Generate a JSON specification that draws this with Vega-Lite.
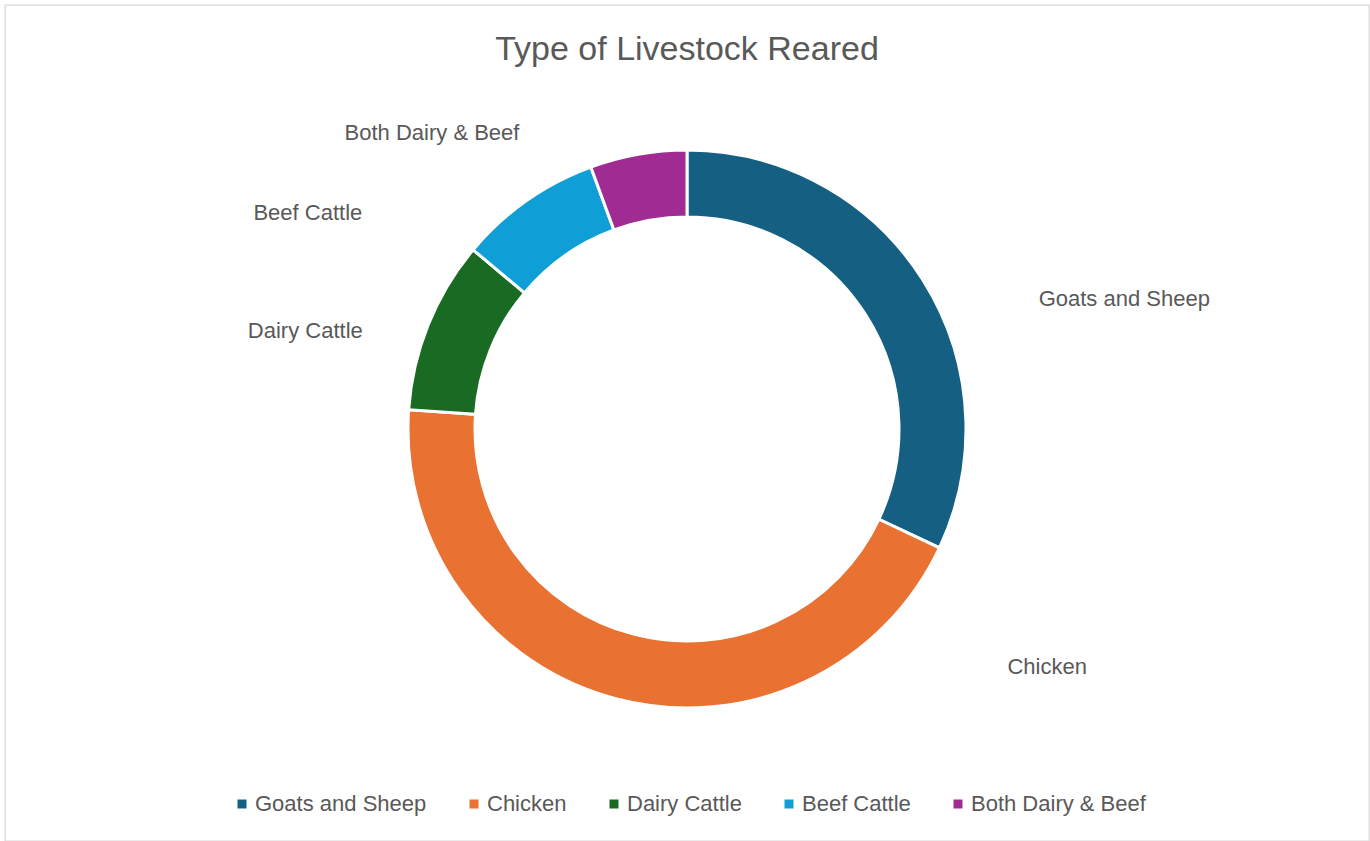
{
  "$schema": "https://vega.github.io/schema/vega-lite/v6.json",
  "width": 1364,
  "height": 836,
  "autosize": {"type": "none"},
  "padding": {"left": 5, "top": 5, "right": 1, "bottom": 0},
  "background": "white",
  "view": {"stroke": "#d9d9d9", "strokeWidth": 1.3},
  "title": {
    "text": "Type of Livestock Reared",
    "font": "Liberation Sans",
    "fontSize": 34,
    "fontWeight": "normal",
    "color": "#595959",
    "anchor": "middle",
    "baseline": "alphabetic",
    "offset": -89
  },
  "data": {
    "values": [
      {"category": "Goats and Sheep", "value": 32, "rank": 1},
      {"category": "Chicken", "value": 44.1, "rank": 2},
      {"category": "Dairy Cattle", "value": 10, "rank": 3},
      {"category": "Beef Cattle", "value": 8.3, "rank": 4},
      {"category": "Both Dairy & Beef", "value": 5.6, "rank": 5}
    ]
  },
  "encoding": {
    "theta": {"field": "value", "type": "quantitative", "stack": true},
    "order": {"field": "rank", "type": "ordinal"}
  },
  "layer": [
    {
      "mark": {"type": "arc", "outerRadius": 279, "innerRadius": 212, "stroke": "white", "strokeWidth": 3, "yOffset": 6},
      "encoding": {
        "color": {
          "field": "category",
          "type": "nominal",
          "scale": {
            "domain": ["Goats and Sheep", "Chicken", "Dairy Cattle", "Beef Cattle", "Both Dairy & Beef"],
            "range": ["#156082", "#E97132", "#196B24", "#0F9ED5", "#A02B93"]
          },
          "legend": {
            "orient": "none",
            "legendX": 226,
            "legendY": 788,
            "direction": "horizontal",
            "title": null,
            "symbolType": "square",
            "symbolSize": 81,
            "symbolStrokeWidth": 0,
            "labelFont": "Liberation Sans",
            "labelFontSize": 22,
            "labelColor": "#595959",
            "labelOffset": 2,
            "labelLimit": 400,
            "columnPadding": 36
          }
        }
      }
    },
    {
      "mark": {"type": "text", "radius": 245.5, "yOffset": 6, "dx": 230, "dy": 2, "font": "Liberation Sans", "fontSize": 22, "color": "#595959", "align": "center", "baseline": "middle"},
      "encoding": {"text": {"condition": {"test": "datum.category === 'Goats and Sheep'", "field": "category"}, "value": ""}}
    },
    {
      "mark": {"type": "text", "radius": 245.5, "yOffset": 6, "dx": 422, "dy": 0, "font": "Liberation Sans", "fontSize": 22, "color": "#595959", "align": "center", "baseline": "middle"},
      "encoding": {"text": {"condition": {"test": "datum.category === 'Chicken'", "field": "category"}, "value": ""}}
    },
    {
      "mark": {"type": "text", "radius": 245.5, "yOffset": 6, "dx": -154, "dy": -6, "font": "Liberation Sans", "fontSize": 22, "color": "#595959", "align": "center", "baseline": "middle"},
      "encoding": {"text": {"condition": {"test": "datum.category === 'Dairy Cattle'", "field": "category"}, "value": ""}}
    },
    {
      "mark": {"type": "text", "radius": 245.5, "yOffset": 6, "dx": -238, "dy": -15, "font": "Liberation Sans", "fontSize": 22, "color": "#595959", "align": "center", "baseline": "middle"},
      "encoding": {"text": {"condition": {"test": "datum.category === 'Beef Cattle'", "field": "category"}, "value": ""}}
    },
    {
      "mark": {"type": "text", "radius": 245.5, "yOffset": 6, "dx": -212, "dy": -54, "font": "Liberation Sans", "fontSize": 22, "color": "#595959", "align": "center", "baseline": "middle"},
      "encoding": {"text": {"condition": {"test": "datum.category === 'Both Dairy & Beef'", "field": "category"}, "value": ""}}
    }
  ]
}
